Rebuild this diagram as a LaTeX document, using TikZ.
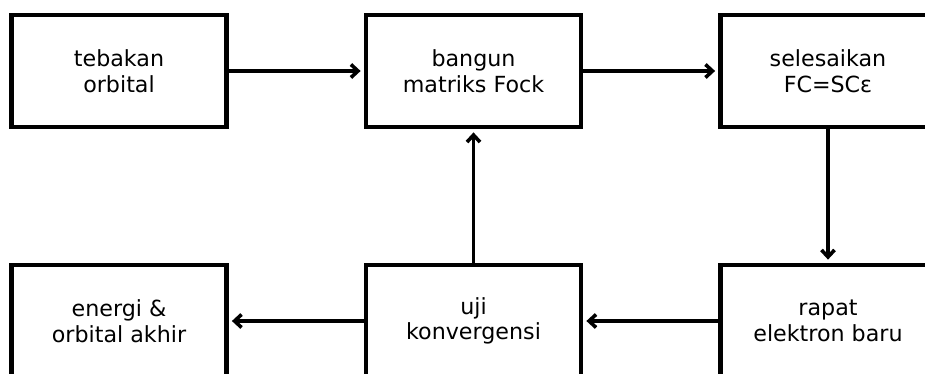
\documentclass[tikz,border=0pt]{standalone}
\usepackage{fontspec}
\setmainfont{DejaVu Sans}
\usetikzlibrary{arrows.meta}
\begin{document}
\begin{tikzpicture}[x=1pt,y=-1pt,
  stepbox/.style={draw=black,line width=4.8pt,minimum width=215pt,minimum height=112pt,inner sep=0pt,align=center,
    font=\fontsize{22.2}{25.5}\selectfont},
  conn/.style={line width=3.6pt,-{Straight Barb[length=7pt,width=13pt,line width=3.6pt]},shorten >=3pt}]
\useasboundingbox (0,0) rectangle (925,374);
\node[stepbox] (a) at (119,71) {tebakan\\orbital};
\node[stepbox] (b) at (473.5,71) {bangun\\matriks Fock};
\node[stepbox] (c) at (828,71) {selesaikan\\FC=SCε};
\node[stepbox] (d) at (119,321) {energi \&\\orbital akhir};
\node[stepbox] (e) at (473.5,321) {uji\\konvergensi};
\node[stepbox] (f) at (828,321) {rapat\\elektron baru};
\draw[conn] (a.east) -- (b.west);
\draw[conn] (b.east) -- (c.west);
\draw[conn] (c.south) -- (f.north);
\draw[conn] (f.west) -- (e.east);
\draw[conn] (e.west) -- (d.east);
\draw[conn] (e.north) -- (b.south);
\end{tikzpicture}
\end{document}
